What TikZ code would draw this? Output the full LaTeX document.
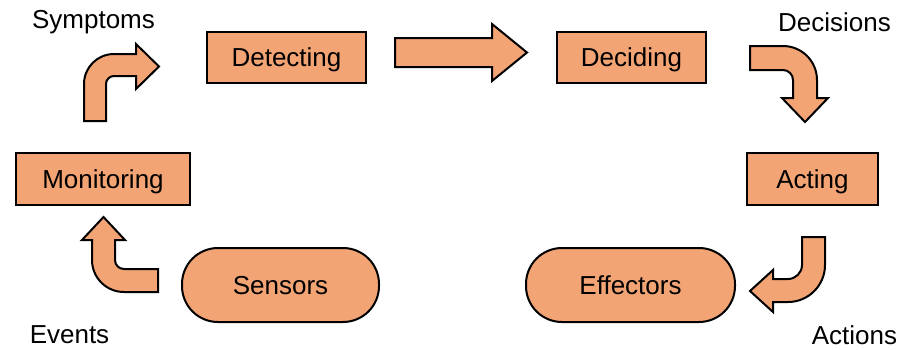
\documentclass[tikz,border=0pt]{standalone}
\usepackage{fontspec}
\setmainfont{Liberation Sans}
\definecolor{boxfill}{HTML}{F3A475}
\begin{document}
\begin{tikzpicture}[x=1pt,y=-1pt,
  every node/.style={font=\fontsize{26}{30}\selectfont, inner sep=0pt},
  stagebox/.style={draw=black, line width=2pt, fill=boxfill, rectangle, text depth=0pt},
  devicebox/.style={draw=black, line width=2pt, fill=boxfill, rectangle, rounded corners=36pt, text depth=0pt},
  blockarrow/.style={draw=black, line width=2pt, fill=boxfill, line join=miter},
  caption/.style={anchor=base}]
\useasboundingbox (0,0) rectangle (908,349);

% processing stages
\node[stagebox, minimum width=159pt, minimum height=51pt] (det) at (286.5,57.5) {Detecting};
\node[stagebox, minimum width=149pt, minimum height=51pt] (dec) at (631.5,57.5) {Deciding};
\node[stagebox, minimum width=131pt, minimum height=52pt] (act) at (812.5,179) {Acting};
\node[stagebox, minimum width=174pt, minimum height=52pt] (mon) at (103,179) {Monitoring};

% devices
\node[devicebox, minimum width=209pt, minimum height=74pt] (eff) at (630.5,285) {Effectors};
\node[devicebox, minimum width=197pt, minimum height=74pt] (sen) at (280.5,285) {Sensors};

% flow labels
\node[caption] (sym) at (93.5,28) {Symptoms};
\node[caption] (decs) at (834.5,31) {Decisions};
\node[caption] (evs) at (69.5,343) {Events};
\node[caption] (acts) at (854.5,344) {Actions};

% Detecting -> Deciding
\draw[blockarrow] (395,38) -- (492,38) -- (492,24) -- (527,52.5) -- (492,81)
  -- (492,67) -- (395,67) -- cycle;

% Monitoring -> Detecting (bent up and right)
\draw[blockarrow] (84,121) -- (84,84)
  .. controls (84,67.4) and (97.4,54) .. (114,54)
  -- (136,54) -- (136,44) -- (159,66.5) -- (136,89) -- (136,76) -- (114,76)
  .. controls (109.6,76) and (106,79.6) .. (106,84)
  -- (106,121) -- cycle;

% Deciding -> Acting (bent right and down)
\draw[blockarrow] (750,46) -- (783,46)
  .. controls (801.8,46) and (817,61.2) .. (817,80)
  -- (817,98) -- (828,98) -- (805,122) -- (782,98) -- (793,98) -- (793,80)
  .. controls (793,74.5) and (788.5,70) .. (783,70)
  -- (750,70) -- cycle;

% Acting -> Effectors (bent down and left)
\draw[blockarrow] (802,237) -- (825,237) -- (825,265)
  .. controls (825,285.4) and (808.4,302) .. (788,302)
  -- (773,302) -- (773,312) -- (750,291) -- (773,270) -- (773,279) -- (788,279)
  .. controls (795.7,279) and (802,272.7) .. (802,265)
  -- cycle;

% Sensors -> Monitoring (bent left and up)
\draw[blockarrow] (158,292) -- (124,292)
  .. controls (106.3,292) and (92,277.7) .. (92,260)
  -- (92,240) -- (82,240) -- (103.5,217) -- (125,240) -- (115,240) -- (115,260)
  .. controls (115,265) and (119,269) .. (124,269)
  -- (158,269) -- cycle;
\end{tikzpicture}
\end{document}
